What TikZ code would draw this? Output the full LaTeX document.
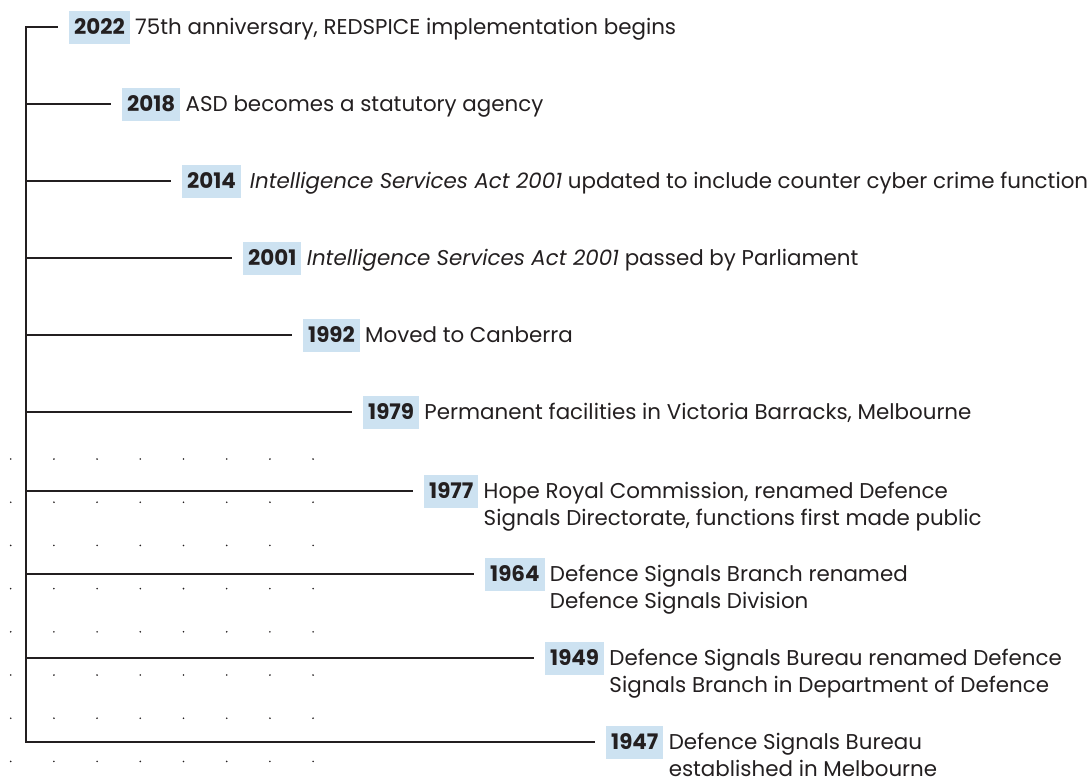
\documentclass[tikz,border=0pt]{standalone}
\usepackage{fontspec}
\setmainfont{Poppins}
\usetikzlibrary{positioning}
\definecolor{inkcolor}{RGB}{35,31,32}
\definecolor{yearcolor}{RGB}{205,226,241}
% two lines of an event, baseline at the first line
\newcommand{\twoline}[2]{\vtop{\hbox{#1}\hbox{#2}}}
\tikzset{
    spine/.style = {draw=inkcolor, line width=2.4pt},
    year box/.style = {fill=yearcolor, text=inkcolor, anchor=west, inner xsep=5pt,
        minimum height=33pt, font=\fontsize{21.4}{26.5}\selectfont\bfseries},
    event text/.style = {text=inkcolor, anchor=base west, inner sep=0pt,
        font=\fontsize{21.4}{26.5}\selectfont},
    grid dot/.style = {fill=inkcolor}
}

\begin{document}
\begin{tikzpicture}[x=1pt, y=-1pt]
        \useasboundingbox (0,0) rectangle (1092,782);
        % dotted background grid
        \foreach \i in {0,...,7}
            \foreach \j in {0,...,7}
                \fill[grid dot] (10.7+43.2*\i, 459+43.2*\j) circle (0.9);
        % spine of the timeline
        \coordinate (spine top) at (26,27);
        \coordinate (spine bottom) at (26,742);
        % year boxes and events
        \foreach \yr/\x/\y/\txt in {
            2022/69/27/{75th anniversary, REDSPICE implementation begins},
            2018/122/104/{ASD becomes a statutory agency},
            2014/182/181/{\,\textit{Intelligence Services Act 2001} updated to include counter cyber crime function},
            2001/243/258/{\textit{Intelligence Services Act 2001} passed by Parliament},
            1992/303/335/{Moved to Canberra},
            1979/363/412/{Permanent facilities in Victoria Barracks, Melbourne},
            1977/424/491/{\twoline{Hope Royal Commission, renamed Defence}{Signals Directorate, functions first made public}},
            1964/485/574/{\twoline{Defence Signals Branch renamed}{Defence Signals Division}},
            1949/545/658/{\twoline{Defence Signals Bureau renamed Defence}{Signals Branch in Department of Defence}},
            1947/606/742/{\twoline{Defence Signals Bureau}{established in Melbourne}}}
        {
            \node[year box] (y\yr) at (\x,\y) {\yr};
            \node[event text] (t\yr) at ([xshift=5pt]y\yr.base east) {\txt};
            \draw[spine] (spine top |- y\yr.west) -- ([xshift=-11pt]y\yr.west);
        }
        \draw[spine, line cap=rect] (spine top) -- (spine bottom);
    \end{tikzpicture}
\end{document}
